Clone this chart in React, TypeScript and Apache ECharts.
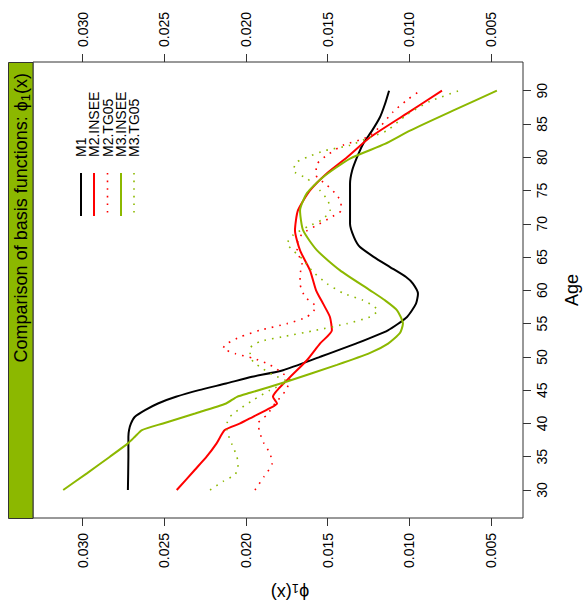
import React, { useEffect, useRef } from "react";
import * as echarts from "echarts";

const FONT = "Liberation Sans, Arial, sans-serif";
const GREEN = "#8cb800";
const RED = "#ff0000";
const BLACK = "#000000";

// axis ranges and ticks
const phiTicks = [0.005, 0.01, 0.015, 0.02, 0.025, 0.03];
const ageTicks = [30, 35, 40, 45, 50, 55, 60, 65, 70, 75, 80, 85, 90];
const PHI_MIN = 0.00304;
const PHI_MAX = 0.03304;
const AGE_MIN = 25.79;
const AGE_MAX = 94.31;

const seriesNames = ["M1", "M2.INSEE", "M2.TG05", "M3.INSEE", "M3.TG05"];

// M1
const m1Age = [30, 35, 38, 39, 40, 41, 42, 43, 44, 45, 46, 47, 48, 50, 52, 54, 56, 58, 59.5, 61, 62, 63.5, 65, 66.5, 68, 70, 73, 76, 78, 80, 82, 84, 86, 88, 90];
const m1Phi = [0.02723, 0.0272, 0.0272, 0.02716, 0.02704, 0.0268, 0.02618, 0.02539, 0.02429, 0.02288, 0.02122, 0.01963, 0.01773, 0.01547, 0.01327, 0.01131, 0.01014, 0.00959, 0.00947, 0.00978, 0.0102, 0.01118, 0.01216, 0.01302, 0.01339, 0.01363, 0.01363, 0.01363, 0.0135, 0.0132, 0.01283, 0.01228, 0.0118, 0.01149, 0.01124];

// M2.INSEE
const m2InseeAge = [30, 33, 35, 37, 39, 40, 41, 42.3, 43, 44, 46.5, 49.5, 52, 54, 56, 58, 60, 63, 66, 69, 72, 75, 77.6, 80, 83, 86.6, 90];
const m2InseePhi = [0.02424, 0.02314, 0.02241, 0.0218, 0.0213, 0.02036, 0.01957, 0.01853, 0.0181, 0.01835, 0.01749, 0.01627, 0.01547, 0.01474, 0.01486, 0.01528, 0.01571, 0.01608, 0.01669, 0.017, 0.01682, 0.01608, 0.01504, 0.01381, 0.0124, 0.01014, 0.008];

// M2.TG05
const m2TgAge = [30, 32, 34, 35.5, 37, 38.5, 40, 41.3, 43, 44.8, 46.5, 47.8, 48.8, 49.8, 50.5, 51.3, 52, 53, 54, 55, 56, 57.5, 59, 61, 62.3, 64, 66, 67.6, 68.6, 69.8, 70.9, 72, 73.1, 74.3, 75.8, 77.3, 79, 80.3, 81.8, 83, 84.6, 86.8, 88.6, 90];
const m2TgPhi = [0.01945, 0.0189, 0.0184, 0.01853, 0.0189, 0.01914, 0.01926, 0.01871, 0.01822, 0.01761, 0.0173, 0.01791, 0.01853, 0.01957, 0.02067, 0.0214, 0.02116, 0.02036, 0.01914, 0.01749, 0.01627, 0.01571, 0.01638, 0.01669, 0.01669, 0.01657, 0.01687, 0.01681, 0.0165, 0.01565, 0.01485, 0.01418, 0.01418, 0.01443, 0.01504, 0.01571, 0.01565, 0.01504, 0.01406, 0.01259, 0.01179, 0.011, 0.01014, 0.00933];

// M3.INSEE
const m3InseeAge = [30, 32.5, 35, 37, 38, 39, 40, 41.5, 43, 44, 44.6, 46.3, 48.8, 50.6, 52, 53.6, 55, 57, 58.5, 60, 63, 66, 69, 72, 74.6, 77, 79.8, 82, 84, 87, 90];
const m3InseePhi = [0.03119, 0.02974, 0.02833, 0.02723, 0.0268, 0.02637, 0.02508, 0.02312, 0.02122, 0.02055, 0.01975, 0.01749, 0.01443, 0.0124, 0.0113, 0.01057, 0.01039, 0.01075, 0.01149, 0.0124, 0.01424, 0.01565, 0.0165, 0.01669, 0.01627, 0.01529, 0.01363, 0.01149, 0.00996, 0.00733, 0.00464];

// M3.TG05
const m3TgAge = [30, 31.3, 32.3, 33.5, 35, 36.8, 39, 40, 41, 42, 43.5, 45, 46.3, 47.3, 48.3, 49.3, 50.6, 51.3, 52.3, 53, 54, 55, 56, 57, 57.8, 58.5, 59.6, 61, 62.8, 64.6, 66, 67, 68.3, 69.6, 70.6, 72, 73.5, 75, 76.8, 78, 79.3, 80, 81, 81.8, 83, 84, 86.4, 88.4, 90];
const m3TgPhi = [0.0222, 0.0214, 0.02067, 0.02049, 0.02055, 0.02085, 0.02116, 0.02116, 0.02098, 0.02049, 0.01957, 0.01853, 0.01749, 0.01835, 0.01902, 0.01957, 0.01975, 0.01975, 0.01914, 0.0178, 0.01571, 0.01382, 0.01241, 0.01192, 0.01229, 0.01284, 0.01406, 0.01504, 0.0159, 0.01651, 0.01712, 0.01749, 0.01712, 0.0162, 0.01535, 0.01485, 0.01498, 0.01547, 0.01626, 0.01712, 0.01688, 0.01626, 0.01516, 0.01363, 0.01241, 0.01137, 0.01014, 0.00873, 0.00695];

const zip = (phi: number[], age: number[]) => phi.map((p, i) => [p, age[i]]);

const DOT: number[] = [1.6, 6];

export default function App() {
  const ref = useRef<HTMLDivElement>(null);
  useEffect(() => {
    document.body.style.margin = "0";
    const chart = echarts.init(ref.current!, null, { renderer: "svg" });

    const gridL = 33, gridR = 523, gridT = 62, gridB = 518;

    const xAxisBase = (position: string) => ({
      type: "value",
      position,
      gridIndex: 0,
      min: PHI_MIN,
      max: PHI_MAX,
      inverse: true,
      axisLine: { show: false },
      splitLine: { show: false },
      axisTick: {
        show: true,
        inside: false,
        length: 8,
        customValues: phiTicks,
        lineStyle: { color: "#333", width: 1 },
      },
      axisLabel: {
        customValues: phiTicks,
        // ECharts negates the rotation of labels on a top axis
        rotate: position === "top" ? -90 : 90,
        margin: 15,
        color: "#000",
        fontSize: 14,
        fontFamily: FONT,
        formatter: (v: number) => v.toFixed(3),
      },
    });

    const lineSeries = (name: string, data: number[][], color: string, dotted: boolean) => ({
      type: "line",
      name,
      data,
      showSymbol: false,
      symbol: "none",
      smooth: 0.2,
      clip: true,
      lineStyle: {
        color,
        width: dotted ? 1.6 : 2,
        type: dotted ? DOT : "solid",
        cap: "butt",
      },
      itemStyle: { color },
    });

    const legendX = [81, 94, 107.5, 121, 134];
    const legendColors = [BLACK, RED, RED, GREEN, GREEN];
    const legendDotted = [false, false, true, false, true];

    const graphics: any[] = [
      {
        type: "rect",
        shape: { x: 8.5, y: gridT + 0.5, width: gridL - 8.5, height: gridB - gridT },
        style: { fill: GREEN, stroke: "#333", lineWidth: 1 },
        z: 10,
      },
      {
        type: "text",
        x: 21,
        y: 73,
        rotation: Math.PI / 2,
        z: 11,
        style: {
          text: "{a|Comparison of basis functions: ϕ}{s|1}{a|(x)}",
          align: "right",
          verticalAlign: "middle",
          fill: "#000",
          rich: {
            a: { fontSize: 18, fontFamily: FONT, lineHeight: 22, verticalAlign: "middle", fill: "#000" },
            s: { fontSize: 13, fontFamily: FONT, lineHeight: 16, verticalAlign: "bottom", fill: "#000" },
          },
        },
      },
      {
        type: "text",
        x: 572,
        y: 290,
        rotation: Math.PI / 2,
        style: {
          text: "Age",
          align: "center",
          verticalAlign: "middle",
          fontSize: 18,
          fontFamily: FONT,
          fill: "#000",
        },
      },
      {
        type: "text",
        x: 290,
        y: 593,
        rotation: Math.PI,
        style: {
          text: "{a|ϕ}{s|1}{a|(x)}",
          align: "center",
          verticalAlign: "middle",
          fill: "#000",
          rich: {
            a: { fontSize: 18, fontFamily: FONT, lineHeight: 22, verticalAlign: "middle", fill: "#000" },
            s: { fontSize: 13, fontFamily: FONT, lineHeight: 16, verticalAlign: "bottom", fill: "#000" },
          },
        },
      },
    ];

    seriesNames.forEach((name, i) => {
      graphics.push({
        type: "text",
        x: legendX[i],
        y: 157,
        rotation: Math.PI / 2,
        style: {
          text: name,
          align: "left",
          verticalAlign: "middle",
          fontSize: 14,
          fontFamily: FONT,
          fill: "#000",
        },
      });
      graphics.push({
        type: "line",
        shape: { x1: legendX[i], y1: 173, x2: legendX[i], y2: 216 },
        style: {
          stroke: legendColors[i],
          lineWidth: legendDotted[i] ? 1.6 : 2,
          lineDash: legendDotted[i] ? DOT : null,
        },
      });
    });

    const option: any = {
      animation: false,
      backgroundColor: "#ffffff",
      grid: {
        left: gridL,
        right: 585 - gridR,
        top: gridT,
        bottom: 606 - gridB,
        show: true,
        borderColor: "#333",
        borderWidth: 1,
        backgroundColor: "transparent",
        containLabel: false,
        outerBoundsMode: "none",
      },
      xAxis: [xAxisBase("bottom"), xAxisBase("top")],
      yAxis: {
        type: "value",
        position: "right",
        min: AGE_MIN,
        max: AGE_MAX,
        axisLine: { show: false },
        splitLine: { show: false },
        axisTick: {
          show: true,
          inside: false,
          length: 8,
          customValues: ageTicks,
          lineStyle: { color: "#333", width: 1 },
        },
        axisLabel: {
          customValues: ageTicks,
          rotate: 90,
          margin: 12,
          color: "#000",
          fontSize: 14,
          fontFamily: FONT,
        },
      },
      series: [
        lineSeries(seriesNames[0], zip(m1Phi, m1Age), BLACK, false),
        lineSeries(seriesNames[1], zip(m2InseePhi, m2InseeAge), RED, false),
        lineSeries(seriesNames[2], zip(m2TgPhi, m2TgAge), RED, true),
        lineSeries(seriesNames[3], zip(m3InseePhi, m3InseeAge), GREEN, false),
        lineSeries(seriesNames[4], zip(m3TgPhi, m3TgAge), GREEN, true),
      ],
      graphic: graphics,
    };

    chart.setOption(option);
    return () => chart.dispose();
  }, []);

  return <div ref={ref} style={{ width: 585, height: 606 }} />;
}
